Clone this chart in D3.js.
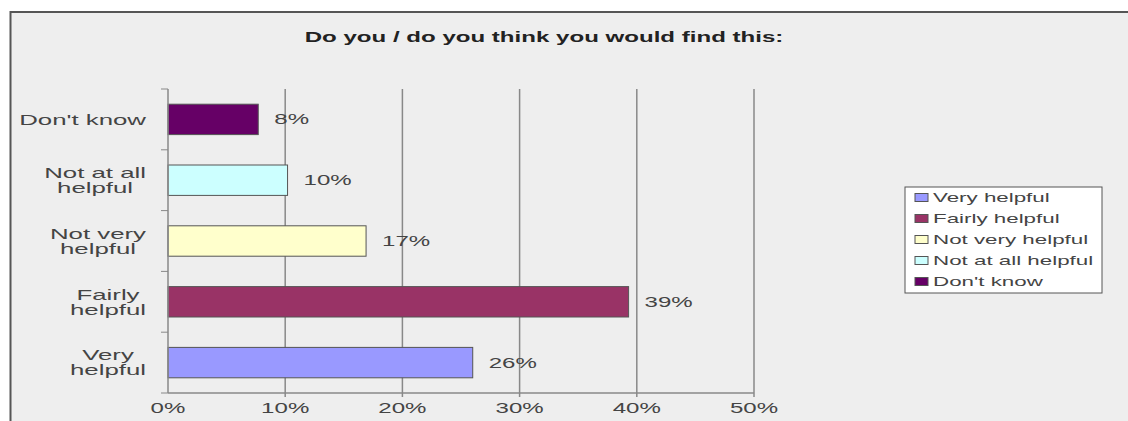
<!DOCTYPE html>
<html>
<head>
<meta charset="utf-8">
<script src="https://cdn.jsdelivr.net/npm/d3@7"></script>
<style>
  body { margin: 0; background: #fff; }
  text { font-family: "Liberation Sans", Arial, sans-serif; fill: #444; }
</style>
</head>
<body>
<svg id="chart" width="1128" height="421"></svg>
<script>
const categories = ['Very helpful', 'Fairly helpful', 'Not very helpful', 'Not at all helpful', "Don't know"];
const values = [26.0, 39.3, 16.9, 10.2, 7.7];
const colors = ['#9999ff', '#993366', '#ffffcc', '#ccffff', '#660066'];
const axisLabels = [['Very', 'helpful'], ['Fairly', 'helpful'], ['Not very', 'helpful'], ['Not at all', 'helpful'], ["Don't know"]];
const tickValues = [0, 10, 20, 30, 40, 50];
const title = 'Do you / do you think you would find this:';

// the source image is stretched sideways, so every text gets this x scale
const SX = 1.72;

const svg = d3.select('#chart');
const data = categories.map((c, i) => ({ key: c, value: values[i], color: colors[i], lines: axisLabels[i] }));

const plot = { left: 168, right: 754, top: 89, bottom: 393 };

const x = d3.scaleLinear().domain([0, 50]).range([plot.left, plot.right]);
const y = d3.scaleBand()
  .domain(categories.slice().reverse())
  .range([plot.top, plot.bottom])
  .paddingInner(0.5)
  .paddingOuter(0.25);

const stretch = (sel, px, py) => sel.attr('transform', `translate(${px},${py}) scale(${SX},1)`);

// frame
svg.append('rect').attr('x', 10.5).attr('y', 12).attr('width', 1140).attr('height', 420)
  .attr('fill', '#eeeeee').attr('stroke', '#555').attr('stroke-width', 2);

// title
svg.append('text')
  .attr('text-anchor', 'middle')
  .attr('font-size', 14)
  .attr('font-weight', 'bold')
  .style('fill', '#222')
  .text(title)
  .call(stretch, 544, 41.5);

// gridlines
svg.append('g')
  .selectAll('line')
  .data(tickValues.slice(1))
  .enter()
  .append('line')
  .attr('x1', d => x(d)).attr('x2', d => x(d))
  .attr('y1', plot.top).attr('y2', plot.bottom + 4)
  .attr('stroke', '#888').attr('stroke-width', 1.5);

// bars
svg.append('g')
  .selectAll('rect')
  .data(data)
  .enter()
  .append('rect')
  .attr('x', x(0))
  .attr('y', d => y(d.key))
  .attr('width', d => x(d.value) - x(0))
  .attr('height', y.bandwidth())
  .attr('fill', d => d.color)
  .attr('stroke', '#555')
  .attr('stroke-width', 1);

// value labels
svg.append('g')
  .selectAll('text')
  .data(data)
  .enter()
  .append('text')
  .attr('font-size', 14)
  .attr('dy', '0.35em')
  .text(d => `${Math.round(d.value)}%`)
  .each(function (d) {
    d3.select(this).call(stretch, x(d.value) + 16, y(d.key) + y.bandwidth() / 2);
  });

// left axis
const yAxis = svg.append('g');
yAxis.append('line')
  .attr('x1', plot.left).attr('x2', plot.left)
  .attr('y1', plot.top).attr('y2', plot.bottom)
  .attr('stroke', '#888').attr('stroke-width', 1.5);
yAxis.selectAll('line.tick')
  .data(d3.range(categories.length + 1))
  .enter()
  .append('line')
  .attr('class', 'tick')
  .attr('x1', plot.left - 7).attr('x2', plot.left)
  .attr('y1', i => plot.top + i * y.step()).attr('y2', i => plot.top + i * y.step())
  .attr('stroke', '#888');

// category labels: lines centred on each other, block right-aligned
const labelRight = 146;
const lineH = 15;
const catLabels = svg.append('g')
  .selectAll('g')
  .data(data)
  .enter()
  .append('g');
catLabels.each(function (d) {
  const g = d3.select(this);
  const texts = d.lines.map(t => g.append('text').attr('font-size', 15).attr('text-anchor', 'middle').text(t));
  const maxW = d3.max(texts, t => t.node().getComputedTextLength()) * SX;
  const cx = labelRight - maxW / 2;
  const cy = y(d.key) + y.bandwidth() / 2;
  const n = d.lines.length;
  texts.forEach((t, i) => {
    t.attr('dy', '0.35em').call(stretch, cx, cy + (i - (n - 1) / 2) * lineH);
  });
});

// bottom axis
const xAxis = svg.append('g');
xAxis.append('line')
  .attr('x1', plot.left).attr('x2', plot.right)
  .attr('y1', plot.bottom).attr('y2', plot.bottom)
  .attr('stroke', '#888').attr('stroke-width', 1.5);
xAxis.selectAll('text')
  .data(tickValues)
  .enter()
  .append('text')
  .attr('font-size', 14)
  .attr('text-anchor', 'middle')
  .text(d => `${d}%`)
  .each(function (d) {
    d3.select(this).call(stretch, x(d), 413);
  });

// legend
const legend = svg.append('g').attr('transform', 'translate(905,187)');
legend.append('rect')
  .attr('width', 197).attr('height', 106)
  .attr('fill', '#fff').attr('stroke', '#555').attr('stroke-width', 1);
const item = legend.selectAll('g')
  .data(data)
  .enter()
  .append('g')
  .attr('transform', (d, i) => `translate(0,${10.5 + i * 21})`);
item.append('rect')
  .attr('x', 10).attr('y', -4)
  .attr('width', 13).attr('height', 8)
  .attr('fill', d => d.color)
  .attr('stroke', '#555').attr('stroke-width', 1);
item.append('text')
  .attr('font-size', 13)
  .attr('dy', '0.35em')
  .text(d => d.key)
  .each(function () {
    d3.select(this).call(stretch, 28, 0);
  });
</script>
</body>
</html>
